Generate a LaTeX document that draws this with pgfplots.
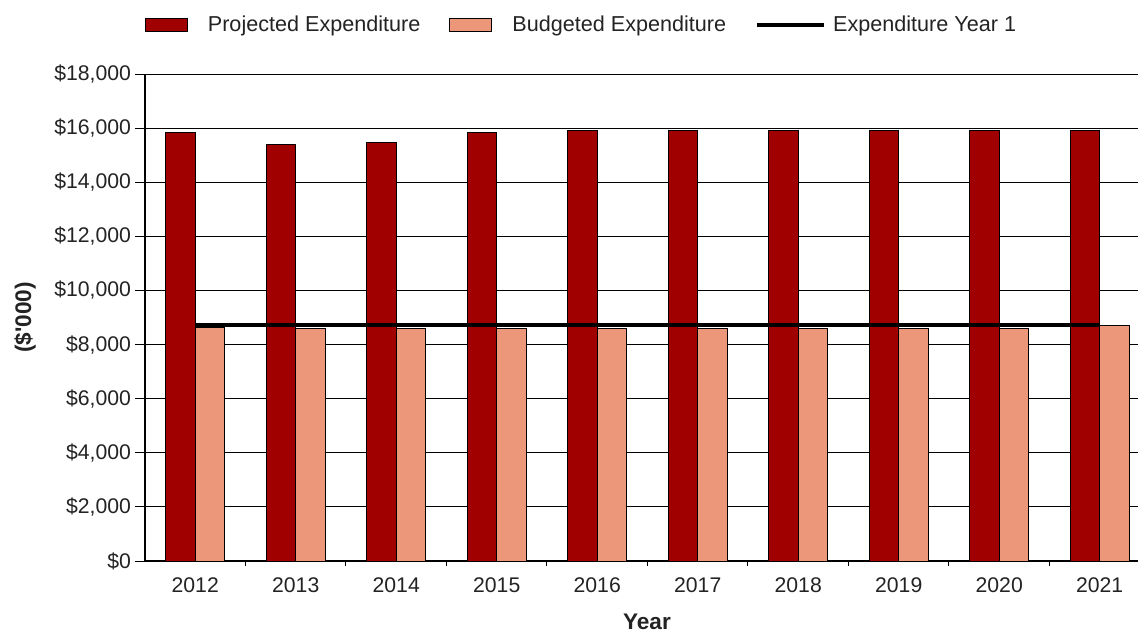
\documentclass[border=0pt]{standalone}
\usepackage{pgfplots}
\pgfplotsset{compat=1.18}
\usepackage{fontspec}
\setmainfont{Liberation Sans}[Ligatures=TeXOff]
\definecolor{projred}{RGB}{160,0,0}
\definecolor{budsalmon}{RGB}{236,150,122}
\definecolor{txt}{RGB}{35,35,35}

\pgfplotsset{
    barlegend/.style={legend image code/.code={\draw[##1] (0pt,-3.25pt) rectangle (21pt,3.25pt); \path (29pt,0pt);}},
    linelegend/.style={legend image code/.code={\draw[##1] (0pt,0pt) -- (33.5pt,0pt); \path (35pt,0pt);}},
}

\begin{document}
\begin{tikzpicture}
\begin{axis}[
    name=ax,
    width=496.5pt, height=243.5pt, scale only axis,
    ybar=0pt, bar width=14.75pt,
    xmin=-0.5, xmax=9.381,
    ymin=0, ymax=18000,
    axis x line*=bottom, axis y line*=left,
    axis line style={black, line width=0.6pt},
    ymajorgrids, grid style={black, line width=0.5pt},
    ytick={0,2000,...,18000},
    scaled y ticks=false,
    yticklabel={\$\pgfmathprintnumber{\tick}},
    /pgf/number format/.cd, fixed, 1000 sep={,}, assume math mode=true,
    /pgfplots/.cd,
    xtick={0,1,2,3,4,5,6,7,8,9},
    xticklabels={2012,2013,2014,2015,2016,2017,2018,2019,2020,2021},
    tick align=outside, major tick length=5pt,
    tick style={black, line width=0.5pt},
    x tick style={draw=none},
    extra x ticks={0.5,1.5,2.5,3.5,4.5,5.5,6.5,7.5,8.5},
    extra x tick labels={},
    extra x tick style={x tick style={draw=black, line width=0.5pt}, major tick length=2.5pt, grid=none},
    tick label style={text=txt, font=\fontsize{10.6}{12}\selectfont},
    yticklabel style={xshift=1.5pt},
    xlabel={Year},
    xlabel style={at={(axis description cs:0.5055,0)}, anchor=base, yshift=-34pt, text=txt, font=\bfseries\fontsize{11.3}{13}\selectfont},
    ylabel={(\$'000)},
    ylabel style={at={(axis description cs:-0.1208,0.5)}, anchor=center, text=txt, font=\bfseries\fontsize{11.3}{13}\selectfont},
    legend style={at={(axis description cs:0.4406,1.1006)}, anchor=center, draw=none, fill=none,
        legend columns=3, text=txt, font=\fontsize{10.8}{13}\selectfont,
        /tikz/every even column/.append style={column sep=12.5pt}},
]

\addplot[fill=projred, draw=black, line width=0.5pt, barlegend]
    coordinates {(0,15830) (1,15380) (2,15470) (3,15840) (4,15900) (5,15900) (6,15900) (7,15900) (8,15900) (9,15900)};
\addlegendentry{Projected Expenditure}

\addplot[fill=budsalmon, draw=black, line width=0.5pt, barlegend]
    coordinates {(0,8640) (1,8600) (2,8600) (3,8600) (4,8600) (5,8600) (6,8600) (7,8600) (8,8600) (9,8700)};
\addlegendentry{Budgeted Expenditure}

\addplot[sharp plot, black, line width=2pt, mark=none, linelegend]
    coordinates {(0,8720) (9,8720)};
\addlegendentry{Expenditure Year 1}

\end{axis}
\pgfresetboundingbox
\useasboundingbox ([xshift=-72.5pt,yshift=-36pt]ax.south west) rectangle ([yshift=37pt]ax.north east);
\end{tikzpicture}
\end{document}
